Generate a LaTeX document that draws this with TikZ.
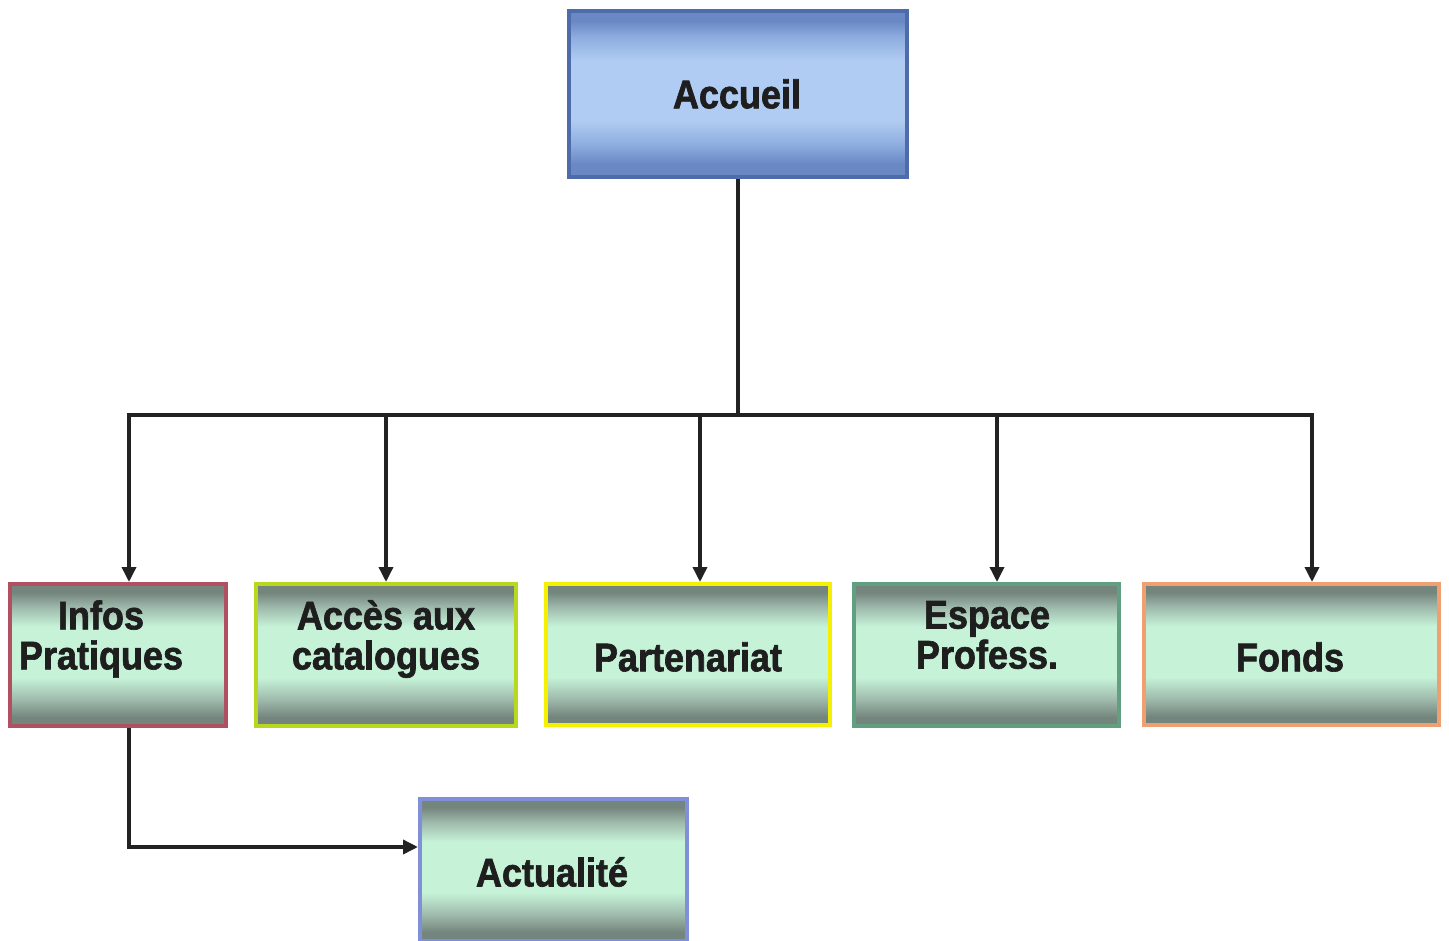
\documentclass[tikz,border=0pt]{standalone}
\usepackage{fontspec}
\setmainfont{Liberation Sans}[FakeStretch=0.9, BoldFeatures={FakeBold=1.6}]
\usetikzlibrary{arrows.meta}
\definecolor{gdark}{HTML}{74857D}
\definecolor{gmid}{HTML}{9DB8AA}
\definecolor{glight}{HTML}{C6F2D8}
\definecolor{bdark}{HTML}{6A88C4}
\definecolor{bmid}{HTML}{8FAEE0}
\definecolor{blight}{HTML}{B0CCF2}
\pgfdeclareverticalshading{greenbox}{100bp}{color(0bp)=(gdark); color(25bp)=(gdark); color(28bp)=(gdark); color(34bp)=(gmid); color(42bp)=(glight); color(60bp)=(glight); color(67bp)=(gmid); color(72bp)=(gdark); color(75bp)=(gdark); color(100bp)=(gdark)}
\pgfdeclareverticalshading{bluebox}{100bp}{color(0bp)=(bdark); color(25bp)=(bdark); color(29bp)=(bdark); color(35bp)=(bmid); color(42bp)=(blight); color(60bp)=(blight); color(67bp)=(bmid); color(72bp)=(bdark); color(75bp)=(bdark); color(100bp)=(bdark)}
\tikzset{
  boxbase/.style={rectangle, inner sep=0pt, line width=4pt},
  lowbox/.style={boxbase, shading=greenbox, minimum width=#1},
  boxtext/.style={inner sep=0pt, align=center,
    font=\fontsize{40}{40}\selectfont\bfseries, text={rgb,255:red,30;green,30;blue,30}},
  conn/.style={line width=3.5pt, draw={rgb,255:red,34;green,34;blue,34}},
  arr/.style={conn, -{Triangle[length=15pt,width=14pt]}},
}
\begin{document}
\begin{tikzpicture}[x=1pt,y=-1pt]
\useasboundingbox (0,0) rectangle (1449,941);
\fill[white] (0,0) rectangle (1449,941);
\node[boxbase, shading=bluebox, draw={rgb,255:red,78;green,108;blue,172}, minimum width=338pt, minimum height=166pt] (acc) at (738,94) {};
\node[lowbox=216pt, minimum height=142pt, draw={rgb,255:red,176;green,80;blue,96}] (infos) at (118,655) {};
\node[lowbox=260pt, minimum height=142pt, draw={rgb,255:red,184;green,216;blue,32}] (acces) at (386,655) {};
\node[lowbox=284pt, minimum height=141pt, draw={rgb,255:red,244;green,240;blue,0}] (part) at (688,654.5) {};
\node[lowbox=265pt, minimum height=142pt, draw={rgb,255:red,96;green,160;blue,128}] (esp) at (986.5,655) {};
\node[lowbox=295pt, minimum height=141pt, draw={rgb,255:red,240;green,160;blue,112}] (fonds) at (1291.5,654.5) {};
\node[lowbox=267pt, minimum height=142pt, draw={rgb,255:red,128;green,144;blue,216}] (actu) at (553.5,870) {};
\node[boxtext] (tacc) at (737,94) {Accueil};
\node[boxtext] (tinfos) at (101,639) {Infos\\Pratiques};
\node[boxtext] (tacces) at (386,639) {Accès aux\\catalogues};
\node[boxtext] (tpart) at (688,657) {Partenariat};
\node[boxtext] (tesp) at (987,635) {Espace\\Profess.};
\node[boxtext] (tfonds) at (1290,657) {Fonds};
\node[boxtext] (tactu) at (552,872) {Actualité};
\coordinate (bus) at (738,415);
\draw[conn] (acc.south) -- (bus);
\draw[arr] (bus) -| ([xshift=11pt]infos.north);
\draw[arr] (bus) -| (acces.north);
\draw[arr] (bus) -| ([xshift=12pt]part.north);
\draw[arr] (bus) -| ([xshift=10.5pt]esp.north);
\draw[arr] (bus) -| ([xshift=20.5pt]fonds.north);
\draw[arr] ([xshift=11pt]infos.south) |- ([yshift=23pt]actu.west);
\end{tikzpicture}
\end{document}
